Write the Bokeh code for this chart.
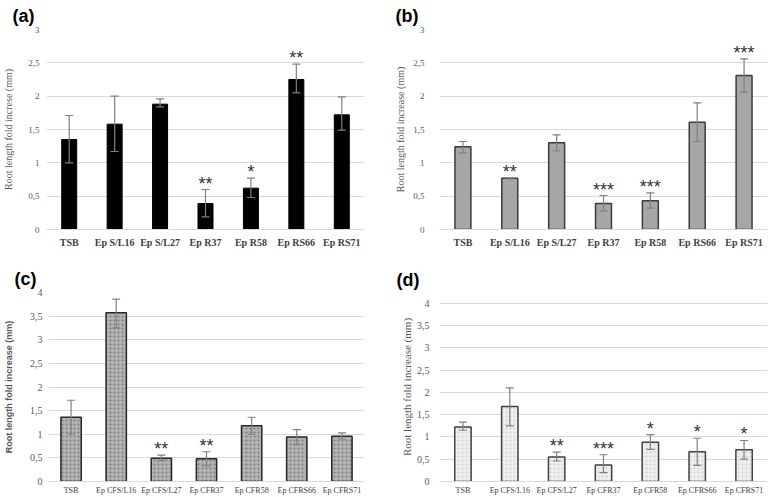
from bokeh.plotting import figure
from bokeh.layouts import column, row
from bokeh.models import ColumnDataSource, Whisker, TeeHead, FixedTicker, Range1d, FactorRange
from bokeh.embed import file_html
from bokeh.resources import INLINE
from bokeh.core.properties import value

# ---------------- data ----------------
cats_ab = ["TSB", "Ep S/L16", "Ep S/L27", "Ep R37", "Ep R58", "Ep RS66", "Ep RS71"]
cats_cd = ["TSB", "Ep CFS/L16", "Ep CFS/L27", "Ep CFR37", "Ep CFR58", "Ep CFRS66", "Ep CFRS71"]

vals_a = [1.35, 1.58, 1.88, 0.39, 0.62, 2.25, 1.72]
lo_a = [1.00, 1.17, 1.84, 0.19, 0.48, 2.05, 1.49]
hi_a = [1.71, 2.00, 1.96, 0.60, 0.77, 2.48, 1.99]
sig_a = ["", "", "", "**", "*", "**", ""]

vals_b = [1.24, 0.77, 1.30, 0.39, 0.43, 1.61, 2.31]
lo_b = [1.15, 0.76, 1.18, 0.28, 0.32, 1.32, 2.06]
hi_b = [1.32, 0.78, 1.42, 0.51, 0.55, 1.90, 2.56]
sig_b = ["", "**", "", "***", "***", "", "***"]

vals_c = [1.36, 3.57, 0.49, 0.48, 1.18, 0.94, 0.96]
lo_c = [1.00, 3.25, 0.44, 0.33, 1.00, 0.78, 0.90]
hi_c = [1.72, 3.86, 0.56, 0.63, 1.36, 1.10, 1.03]
sig_c = ["", "", "**", "**", "", "", ""]

vals_d = [1.22, 1.68, 0.55, 0.37, 0.88, 0.67, 0.71]
lo_d = [1.15, 1.25, 0.46, 0.20, 0.72, 0.36, 0.50]
hi_d = [1.33, 2.10, 0.66, 0.60, 1.05, 0.97, 0.92]
sig_d = ["", "", "**", "***", "*", "*", "*"]

yticks_ab = [0, 0.5, 1, 1.5, 2, 2.5, 3]
ylabels_ab = ["0", "0,5", "1", "1,5", "2", "2,5", "3"]
yticks_cd = [0, 0.5, 1, 1.5, 2, 2.5, 3, 3.5, 4]
ylabels_cd = ["0", "0,5", "1", "1,5", "2", "2,5", "3", "3,5", "4"]


def panel(cats, vals, lo, hi, sig, yticks, ylabels, ymax, ylabel, tag, tag_off, bar_style, bar_width,
          size, borders, tick_fs, tick_so, ax_font, ax_style, ax_fs, ax_so, x_font, x_style, x_fs, x_so):
    w, h = size
    bl, br, bt, bb = borders
    p = figure(x_range=FactorRange(*cats), y_range=Range1d(0, ymax), title=tag,
               width=w, height=h, output_backend="svg", toolbar_location=None,
               min_border_left=bl, min_border_right=br, min_border_top=bt, min_border_bottom=bb)
    p.outline_line_color = None
    p.title.align = "left"
    p.title.offset = tag_off[0]
    p.title.standoff = tag_off[1]
    p.title.text_font = "Liberation Sans"
    p.title.text_font_style = "bold"
    p.title.text_font_size = "18px"
    p.title.text_color = "black"

    src = ColumnDataSource(dict(x=cats, v=vals, lo=lo, hi=hi, sig=sig))
    p.vbar(x="x", top="v", width=bar_width, source=src, **bar_style)
    head = dict(size=8, line_color="#808080", line_width=1.2)
    p.add_layout(Whisker(base="x", upper="hi", lower="lo", source=src, line_color="#808080",
                         line_width=1.2, upper_head=TeeHead(**head), lower_head=TeeHead(**head),
                         level="annotation"))
    p.text(x="x", y="hi", text="sig", source=src, text_align="center", text_baseline="bottom",
           text_font=value("Liberation Sans"), text_font_size="18px", text_color="#333333", y_offset=4)

    p.xgrid.grid_line_color = None
    p.ygrid.grid_line_color = "#d9d9d9"
    p.yaxis.ticker = FixedTicker(ticks=yticks)
    p.yaxis.major_label_overrides = {t: l for t, l in zip(yticks, ylabels)}
    for ax in (p.xaxis[0], p.yaxis[0]):
        ax.major_tick_line_color = None
        ax.minor_tick_line_color = None
        ax.major_tick_out = 0
        ax.major_tick_in = 0
        ax.minor_tick_out = 0
        ax.minor_tick_in = 0
    p.yaxis.axis_line_color = None
    p.xaxis.axis_line_color = "#d9d9d9"
    p.yaxis.major_label_text_font = "Liberation Serif"
    p.yaxis.major_label_text_font_size = tick_fs
    p.yaxis.major_label_text_color = "#595959"
    p.yaxis.major_label_standoff = tick_so
    p.yaxis.axis_label = ylabel
    p.yaxis.axis_label_text_font = ax_font
    p.yaxis.axis_label_text_font_style = ax_style
    p.yaxis.axis_label_text_font_size = ax_fs
    p.yaxis.axis_label_text_color = "#595959"
    p.yaxis.axis_label_standoff = ax_so
    p.xaxis.major_label_text_font = x_font
    p.xaxis.major_label_text_font_style = x_style
    p.xaxis.major_label_text_font_size = x_fs
    p.xaxis.major_label_text_color = "#404040"
    p.xaxis.major_label_standoff = x_so
    return p


style_a = dict(fill_color="black", line_color="black", line_width=1)
style_b = dict(fill_color="#a6a6a6", line_color="#3a3a3a", line_width=1.5)
style_c = dict(fill_color="#b3b3b3", line_color="#262626", line_width=1.5,
               hatch_pattern="dot", hatch_color="#6a6a6a", hatch_scale=4, hatch_weight=1.5, hatch_alpha=0.8)
style_d = dict(fill_color="#efefef", line_color="#404040", line_width=1.5,
               hatch_pattern="dot", hatch_color="#c8c8c8", hatch_scale=4, hatch_weight=1.5, hatch_alpha=0.8)

pa = panel(cats_ab, vals_a, lo_a, hi_a, sig_a, yticks_ab, ylabels_ab, 3, "Root length fold increse (mm)",
           "(a)", (-34, 7), style_a, 0.33, (388, 250), (44, 24, 27, 20),
           "9px", 7, "Liberation Serif", "normal", "10px", 11,
           "Liberation Serif", "bold", "10px", 7)
pb = panel(cats_ab, vals_b, lo_b, hi_b, sig_b, yticks_ab, ylabels_ab, 3, "Root length fold increase (mm)",
           "(b)", (-44, 7), style_b, 0.34, (390, 250), (51, 11, 27, 20),
           "9px", 15, "Liberation Serif", "normal", "10px", 4,
           "Liberation Serif", "bold", "10px", 7)
pc = panel(cats_cd, vals_c, lo_c, hi_c, sig_c, yticks_cd, ylabels_cd, 4, "Root length fold increase (mm)",
           "(c)", (-34, 7), style_c, 0.45, (388, 247), (44, 24, 42, 16),
           "10px", 6, "Liberation Sans", "bold", "9px", 13,
           "Liberation Serif", "normal", "8px", 4)
pd_ = panel(cats_cd, vals_d, lo_d, hi_d, sig_d, yticks_cd, ylabels_cd, 4.24, "Root length fold increase (mm)",
            "(d)", (-43, 5), style_d, 0.35, (390, 247), (51, 11, 42, 16),
            "10px", 10, "Liberation Serif", "normal", "11px", 1,
            "Liberation Serif", "normal", "8px", 4)

layout = column(row(pa, pb), row(pc, pd_))
open("out.html", "w").write(file_html(layout, INLINE))
